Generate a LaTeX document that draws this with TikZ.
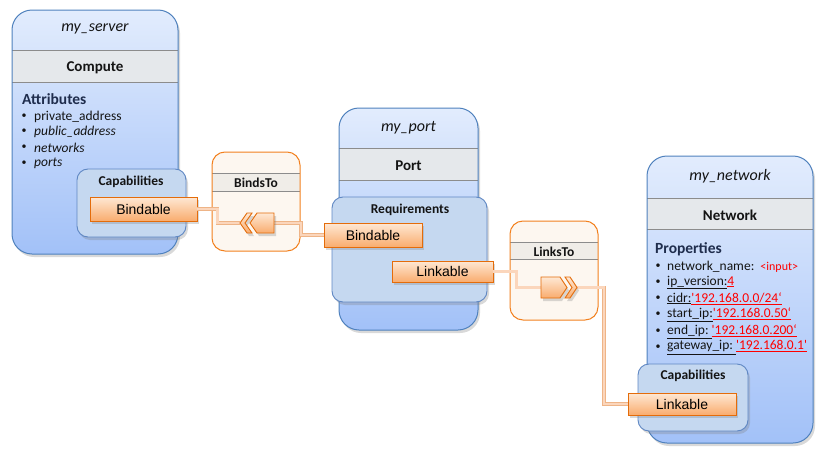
\documentclass[tikz,border=0pt]{standalone}
\usepackage{fontspec}
\setmainfont{Carlito}
\newfontfamily\arialf{Liberation Sans}
\usetikzlibrary{shadows}
\definecolor{bluedraw}{RGB}{79,129,189}
\definecolor{bluetop}{RGB}{226,236,253}
\definecolor{bluebot}{RGB}{162,193,248}
\definecolor{bandfill}{RGB}{229,232,235}
\definecolor{banddraw}{RGB}{140,140,140}
\definecolor{capfill}{RGB}{197,216,240}
\definecolor{capdraw}{RGB}{95,135,195}
\definecolor{otop}{RGB}{254,232,212}
\definecolor{obot}{RGB}{249,172,110}
\definecolor{odraw}{RGB}{228,108,10}
\definecolor{relfill}{RGB}{253,247,240}
\definecolor{reldraw}{RGB}{242,128,30}
\definecolor{relband}{RGB}{240,237,232}
\definecolor{linkout}{RGB}{238,180,135}
\definecolor{linkin}{RGB}{251,214,188}
\definecolor{headc}{RGB}{31,45,77}
\definecolor{txtc}{RGB}{20,20,20}
\definecolor{valred}{RGB}{255,0,0}
\tikzset{
  shd/.style={drop shadow={shadow xshift=2pt, shadow yshift=-3pt, opacity=0.3}},
  bigfill/.style={rounded corners=20pt, top color=bluetop, bottom color=bluebot, shd},
  bigline/.style={draw=bluedraw, line width=1pt, rounded corners=20pt},
  bandf/.style={fill=bandfill},
  bandl/.style={draw=banddraw, line width=0.8pt},
  capbox/.style={draw=capdraw, fill=capfill, line width=0.9pt, rounded corners=11pt, shd},
  relf/.style={fill=relfill, rounded corners=13pt},
  rell/.style={draw=reldraw, line width=1pt, rounded corners=13pt},
  relbandf/.style={fill=relband},
  obox/.style={draw=odraw, line width=0.9pt, top color=otop, bottom color=obot, inner sep=0pt,
     font=\arialf\fontsize{14}{16}\selectfont, text=black, shd},
  penta/.style={draw=odraw, line width=0.9pt, top color=otop, bottom color=obot, shd},
  link/.style={draw=linkout, double=linkin, double distance=2.2pt, line width=0.8pt},
  ttl/.style={font=\fontsize{16}{18}\selectfont\itshape, text=txtc, yshift=-2pt},
  typ/.style={font=\fontsize{15}{17}\selectfont\bfseries, text=txtc, yshift=-2pt},
  sec/.style={font=\fontsize{15.5}{17}\selectfont\bfseries, text=headc, anchor=west, inner sep=0pt, yshift=-1.5pt},
  sub/.style={font=\fontsize{13.5}{15}\selectfont\bfseries, text=txtc, yshift=-1pt},
  bul/.style={font=\fontsize{10}{12}\selectfont, text=txtc, inner sep=0pt, yshift=-1.5pt},
  itm/.style={font=\fontsize{13.5}{15}\selectfont, text=txtc, anchor=west, inner sep=0pt, yshift=-1.5pt},
}
\begin{document}
\begin{tikzpicture}[x=1pt,y=-1pt]
\useasboundingbox (0,0) rectangle (823,458);

% ---------- my_server ----------
\path[bigfill] (12,10) rectangle (178,254);
\fill[bandf] (12,50) rectangle (178,82);
\draw[bandl] (12,50) -- (178,50) (12,82) -- (178,82);
\draw[bigline] (12,10) rectangle (178,254);
\node[ttl] (srvname) at (95,27) {my\_server};
\node[typ] (srvtype) at (95,66) {Compute};
\node[sec] (attr) at (22,98) {Attributes};
\foreach \y/\t [count=\i] in {115/{private\_address},130/{\itshape public\_address},146/{\itshape networks},162/{\itshape ports}}{
  \node[bul] (sb\i) at (24,\y) {•};
  \node[itm] (si\i) at (34,\y) {\t};
}
\path[capbox] (77,169) rectangle (186,237);
\node[sub] (srvcap) at (131,181) {Capabilities};

% ---------- BindsTo ----------
\path[relf] (212,152) rectangle (300,251);
\fill[relbandf] (212,173) rectangle (300,191);
\draw[bandl] (212,173) -- (300,173) (212,191) -- (300,191);
\draw[rell] (212,152) rectangle (300,251);
\node[sub] (bindsto) at (256,182) {BindsTo};

% ---------- my_port ----------
\path[bigfill] (339,108) rectangle (478,330);
\fill[bandf] (339,148) rectangle (478,180);
\draw[bandl] (339,148) -- (478,148) (339,180) -- (478,180);
\draw[bigline] (339,108) rectangle (478,330);
\node[ttl] (portname) at (408.5,126) {my\_port};
\node[typ] (porttype) at (408.5,164) {Port};
\path[capbox] (332,197) rectangle (487,302);
\node[sub] (req) at (410,209) {Requirements};

% ---------- LinksTo ----------
\path[relf] (510,221) rectangle (598,320);
\fill[relbandf] (510,242) rectangle (598,259);
\draw[bandl] (510,242) -- (598,242) (510,259) -- (598,259);
\draw[rell] (510,221) rectangle (598,320);
\node[sub] (linksto) at (554,251) {LinksTo};

% ---------- my_network ----------
\path[bigfill] (647,156) rectangle (813,443);
\fill[bandf] (647,198) rectangle (813,229);
\draw[bandl] (647,198) -- (813,198) (647,229) -- (813,229);
\draw[bigline] (647,156) rectangle (813,443);
\node[ttl] (netname) at (730,174) {my\_network};
\node[typ] (nettype) at (730,213) {Network};
\node[sec] (props) at (655,248) {Properties};
\foreach \y/\t [count=\i] in {
  265/{network\_name:\ \ \textcolor{valred}{\fontsize{12}{14}\selectfont<input>}},
  281/{\underline{ip\_version:}\textcolor{valred}{\underline{4}}},
  297/{\underline{cidr:}\textcolor{valred}{\underline{\textquotesingle192.168.0.0/24‘}}},
  313/{\underline{start\_ip:}\textcolor{valred}{\underline{\textquotesingle192.168.0.50‘}}},
  330/{\underline{end\_ip:\ }\textcolor{valred}{\underline{\textquotesingle192.168.0.200‘}}},
  346/{\underline{gateway\_ip:\ }\textcolor{valred}{\underline{\textquotesingle192.168.0.1\textquotesingle}}}}{
  \node[bul] (nb\i) at (658,\y) {•};
  \node[itm] (ni\i) at (667,\y) {\t};
}
\path[capbox] (638,364) rectangle (748,431);
\node[sub] (netcap) at (693,375) {Capabilities};

% ---------- requirement / capability boxes ----------
\node[obox, minimum width=107pt, minimum height=24pt] (bindA) at (143.5,209) {Bindable};
\node[obox, minimum width=98pt, minimum height=24pt] (bindB) at (373,235) {Bindable};
\node[obox, minimum width=101pt, minimum height=21pt] (linkA) at (442.5,271.5) {Linkable};
\node[obox, minimum width=108pt, minimum height=22pt] (linkB) at (682,404) {Linkable};

% ---------- relationship arrows ----------
\coordinate (btout) at (240,223);
\coordinate (btin) at (274,223);
\coordinate (ltin) at (541,287.5);
\coordinate (ltout) at (577,287.5);

\draw[link] (bindA.east) -- ++(20,0) |- (btout);
\draw[link] (btin) -- ++(27,0) |- (bindB.west);
\draw[link] (linkA.east) -- ++(23,0) |- (ltin);
\draw[link] (ltout) -- ++(27,0) |- (linkB.west);

\path[penta] (274,213) -- (257,213) -- (250,223) -- (257,233) -- (274,233) -- cycle;
\path[penta] (252,213) -- (245,223) -- (252,233) -- (247,233) -- (240,223) -- (247,213) -- cycle;
\path[penta] (541,277) -- (560,277) -- (567,287.5) -- (560,298) -- (541,298) -- cycle;
\path[penta] (565,277) -- (572,287.5) -- (565,298) -- (570,298) -- (577,287.5) -- (570,277) -- cycle;
\end{tikzpicture}
\end{document}
